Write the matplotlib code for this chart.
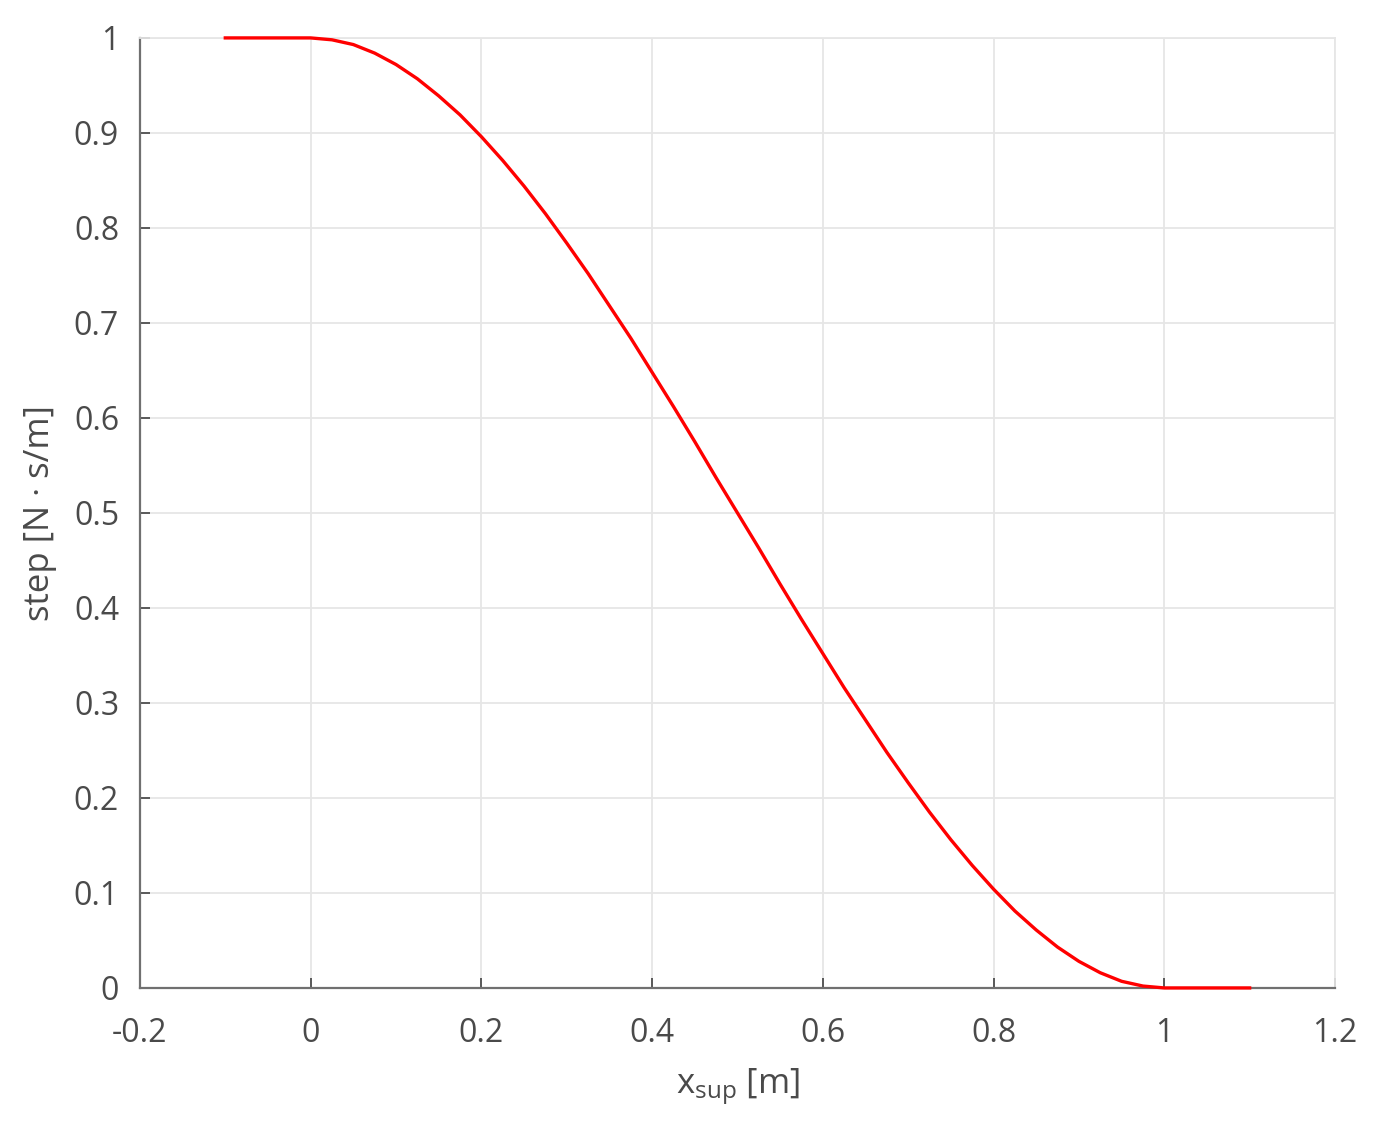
"""step curve plot"""
import numpy as np
import matplotlib
matplotlib.use("Agg")
import matplotlib.pyplot as plt

plt.rcParams['font.family'] = ['Open Sans', 'DejaVu Sans']
plt.rcParams['mathtext.default'] = 'regular'

# values
x_sup = [-0.1, 0.0, 0.025, 0.05, 0.075, 0.1, 0.125, 0.15, 0.175, 0.2, 0.225, 0.25,
         0.275, 0.3, 0.325, 0.35, 0.375, 0.4, 0.425, 0.45, 0.475, 0.5, 0.525,
         0.55, 0.575, 0.6, 0.625, 0.65, 0.675, 0.7, 0.725, 0.75, 0.775, 0.8,
         0.825, 0.85, 0.875, 0.9, 0.925, 0.95, 0.975, 1.0, 1.1]
step = [1.0, 1.0, 0.998, 0.993, 0.984, 0.972, 0.957, 0.939, 0.919, 0.896, 0.871, 0.844,
        0.815, 0.784, 0.752, 0.718, 0.684, 0.648, 0.612, 0.575, 0.537, 0.5, 0.463,
        0.425, 0.388, 0.352, 0.316, 0.282, 0.248, 0.216, 0.185, 0.156, 0.129, 0.104,
        0.081, 0.061, 0.043, 0.028, 0.016, 0.007, 0.002, 0.0, 0.0]

x_ticks = [-0.2, 0, 0.2, 0.4, 0.6, 0.8, 1, 1.2]
x_ticklabels = ["-0.2", "0", "0.2", "0.4", "0.6", "0.8", "1", "1.2"]
y_ticks = [0, 0.1, 0.2, 0.3, 0.4, 0.5, 0.6, 0.7, 0.8, 0.9, 1]
y_ticklabels = ["0", "0.1", "0.2", "0.3", "0.4", "0.5", "0.6", "0.7", "0.8", "0.9", "1"]

txt = '#4a4a4a'

fig = plt.figure(figsize=(13.76, 11.42), dpi=100)
ax = fig.add_axes([0.1017, 0.1349, 0.8685, 0.8319])

ax.plot(x_sup, step, color='red', lw=2.4, zorder=3, clip_on=False,
        solid_joinstyle='round')

ax.set_xlim(-0.2, 1.2)
ax.set_ylim(0, 1)
ax.set_xticks(x_ticks)
ax.set_xticklabels(x_ticklabels)
ax.set_yticks(y_ticks)
ax.set_yticklabels(y_ticklabels)

ax.grid(True, color='#e6e6e6', lw=1.3)
ax.set_axisbelow(True)

for side in ['top', 'right']:
    ax.spines[side].set_color('#e6e6e6')
    ax.spines[side].set_linewidth(1.3)
for side in ['left', 'bottom']:
    ax.spines[side].set_color('#707070')
    ax.spines[side].set_linewidth(1.6)

ax.tick_params(direction='in', length=7, width=1.2, color='#404040',
               labelsize=23, labelcolor=txt, top=False, right=False)
ax.tick_params(axis='x', pad=21)
ax.tick_params(axis='y', pad=15)

ax.set_xlabel("x$_{sup}$ [m]", fontsize=25, color=txt, labelpad=12)
ax.set_ylabel("step [N · s/m]", fontsize=25, color=txt, labelpad=12)

fig.savefig("out.png", dpi=100)
